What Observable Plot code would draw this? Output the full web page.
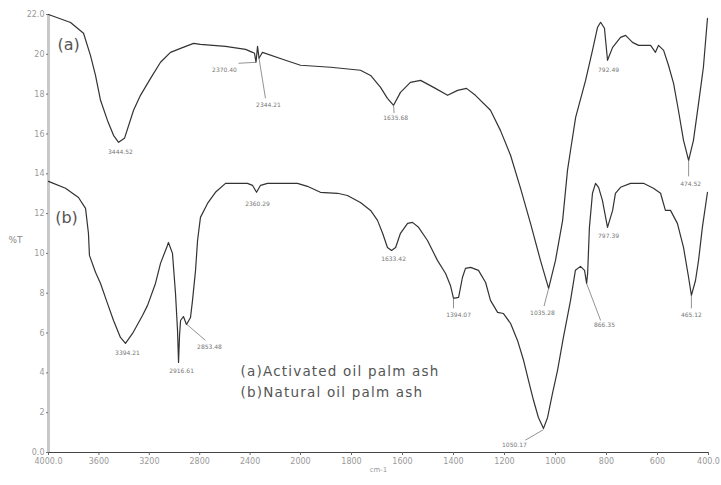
<!DOCTYPE html>
<html><head><meta charset="utf-8">
<script src="https://cdn.jsdelivr.net/npm/d3@7"></script>
<script src="https://cdn.jsdelivr.net/npm/@observablehq/plot@0.6"></script>
<style>body{margin:0;background:#fff}</style>
</head><body><div id="chart"></div>
<script>
// Spectrum (a): activated oil palm ash
const aWave = [4000,3825,3722,3667,3627,3587,3532,3484,3444,3397,3325,3270,3190,3111,3032,2952,2849,2794,2595,2436,2381,2365,2353,2341,2329,2302,2119,2000,1882,1765,1725,1686,1659,1635,1608,1569,1529,1478,1423,1384,1349,1314,1255,1216,1176,1137,1098,1059,1027,1000,972,953,941,921,882,855,835,823,808,796,776,745,725,698,674,627,608,596,576,557,537,518,498,478,459,439,420,404];
const aT    = [22.0,21.6,21.06,19.95,18.94,17.69,16.68,15.93,15.58,15.78,17.19,17.94,18.79,19.60,20.10,20.30,20.55,20.50,20.40,20.25,20.10,20.05,19.6,20.4,19.8,20.1,19.70,19.45,19.35,19.20,18.94,18.34,17.79,17.44,18.09,18.59,18.69,18.34,17.94,18.19,18.29,17.94,17.19,16.18,14.92,13.27,11.51,9.65,8.24,9.65,11.66,14.17,15.18,16.83,18.69,20.20,21.36,21.61,21.31,19.70,20.35,20.85,20.95,20.60,20.45,20.45,20.10,20.45,20.20,19.45,18.54,17.19,15.68,14.67,15.68,17.54,19.35,21.81];
// Spectrum (b): natural oil palm ash
const bWave = [4000,3865,3762,3706,3683,3675,3627,3587,3532,3484,3429,3389,3333,3254,3214,3151,3111,3056,3048,3016,2992,2976,2968,2960,2952,2929,2905,2873,2857,2833,2817,2794,2738,2675,2595,2421,2381,2349,2317,2262,2024,1973,1922,1855,1816,1765,1725,1698,1678,1659,1643,1627,1608,1580,1561,1537,1502,1463,1431,1412,1400,1380,1365,1353,1333,1302,1274,1255,1227,1204,1176,1149,1125,1106,1086,1067,1047,1031,1012,992,969,941,922,902,886,878,874,867,855,843,831,816,796,776,765,745,706,655,616,588,569,549,522,498,478,467,451,439,424,404];
const bT    = [13.62,13.27,12.81,12.26,11.01,9.90,9.05,8.49,7.49,6.63,5.78,5.48,5.98,6.88,7.39,8.49,9.50,10.40,10.55,10.00,7.99,6.13,4.52,5.88,6.63,6.83,6.43,6.78,7.64,9.15,10.65,11.81,12.51,13.07,13.52,13.52,13.42,13.07,13.42,13.52,13.52,13.37,13.07,13.02,12.91,12.56,12.16,11.66,11.01,10.30,10.15,10.30,11.01,11.51,11.56,11.31,10.65,9.65,8.99,8.39,7.74,7.79,8.79,9.25,9.30,9.15,8.54,7.64,7.04,6.98,6.48,5.63,4.62,3.62,2.61,1.76,1.21,1.76,2.96,4.12,5.78,7.64,9.15,9.35,9.15,8.49,9.0,11.31,13.02,13.52,13.32,12.66,11.31,12.16,13.02,13.32,13.52,13.52,13.27,13.02,12.16,12.16,11.51,10.30,8.79,7.89,8.64,9.65,11.31,13.07];

// Peak annotations
const peakText  = ["3444.52","2370.40","2344.21","1635.68","1035.28","792.49","474.52","3394.21","2916.61","2853.48","2360.29","1633.42","1394.07","1050.17","866.35","797.39","465.12"];
const peakTextX = [3429,2603,2254,1627,1051,792,470,3373,2944,2722,2341,1635,1380,1161,808,792,467];
const peakTextY = [15.1,19.2,17.44,16.8,6.98,19.2,13.5,5.0,4.1,5.28,12.5,9.7,6.88,0.35,6.38,10.85,6.88];
// Leader lines (from peak to label)
const leadX1 = [2353,2333,1635,1027,478,2905,1400,1047,878,467];
const leadY1 = [19.6,19.95,17.44,8.24,14.67,6.45,7.74,1.15,8.49,7.89];
const leadX2 = [2492,2278,1633,1045,478,2754,1400,1118,823,467];
const leadY2 = [19.55,17.79,17.05,7.35,13.87,5.63,7.24,0.62,6.63,7.24];

const curveTag  = ["(a)","(b)"];
const curveTagX = [3841,3857];
const curveTagY = [20.45,11.76];
const legendText = ["(a)Activated oil palm ash","(b)Natural oil palm ash"];
const legendX = [2476,2476];
const legendY = [4.07,3.02];

const xTicks = [4000,3600,3200,2800,2400,2000,1800,1600,1400,1200,1000,800,600,400];
const xTickLabels = ["4000.0","3600","3200","2800","2400","2000","1800","1600","1400","1200","1000","800","600","400.0"];
const yTicks = [22,20,18,16,14,12,10,8,6,4,2,0];
const yTickLabels = ["22.0","20","18","16","14","12","10","8","6","4","2","0.0"];

const A = aWave.map((w,i)=>({w, t:aT[i]}));
const B = bWave.map((w,i)=>({w, t:bT[i]}));
const P = peakText.map((s,i)=>({s, x:peakTextX[i], y:peakTextY[i]}));
const L = leadX1.map((x1,i)=>({x1, y1:leadY1[i], x2:leadX2[i], y2:leadY2[i]}));
const C = curveTag.map((s,i)=>({s, x:curveTagX[i], y:curveTagY[i]}));
const G = legendText.map((s,i)=>({s, x:legendX[i], y:legendY[i]}));

// FTIR axis: scale doubles below 2000 cm-1
const k = 2.0238;
const fx = w => w >= 2000 ? 4000 - w : 2000 + (2000 - w) * k;

const chart = Plot.plot({
  width: 721, height: 485,
  marginLeft: 48, marginRight: 13, marginTop: 14, marginBottom: 33,
  style: {fontFamily: "DejaVu Sans", background: "#fff"},
  x: {transform: fx, domain: [fx(4000), fx(400)]},
  y: {domain: [0, 22]},
  marks: [
    Plot.ruleX([4000], {stroke: "#c8c8c8", strokeWidth: 3}),
    Plot.ruleY([0], {stroke: "#444", strokeWidth: 1}),
    Plot.axisX(xTicks, {tickFormat: d => xTickLabels[xTicks.indexOf(d)], tickSize: 3, tickPadding: 3, fontSize: 8, fill: "#999", stroke: "#666", label: null}),
    Plot.axisY(yTicks, {tickFormat: d => yTickLabels[yTicks.indexOf(d)], tickSize: 2, tickPadding: 2, fontSize: 8, fill: "#999", stroke: "#777", label: null}),
    Plot.line(A, {x: "w", y: "t", stroke: "#333", strokeWidth: 1.2}),
    Plot.line(B, {x: "w", y: "t", stroke: "#333", strokeWidth: 1.2}),
    Plot.link(L, {x1: "x1", y1: "y1", x2: "x2", y2: "y2", stroke: "#777", strokeWidth: 0.8}),
    Plot.text(P, {x: "x", y: "y", text: "s", fontSize: 6, fill: "#777"}),
    Plot.text(C, {x: "x", y: "y", text: "s", fontSize: 16, fill: "#555"}),
    Plot.text(G, {x: "x", y: "y", text: "s", fontSize: 13.5, fill: "#555", textAnchor: "start"}),
    Plot.text(["%T"], {frameAnchor: "left", dx: -40, dy: 7, fontSize: 9, fill: "#888"}),
    Plot.text(["cm-1"], {frameAnchor: "bottom", dy: 19, fontSize: 7, fill: "#999"})
  ]
});
// widen the legend lettering to match the geometric typeface of the original
d3.select(chart).selectAll("text")
  .filter(function(){ return legendText.includes(this.textContent); })
  .attr("letter-spacing", "1.2");
document.getElementById("chart").append(chart);
</script>
</body></html>
